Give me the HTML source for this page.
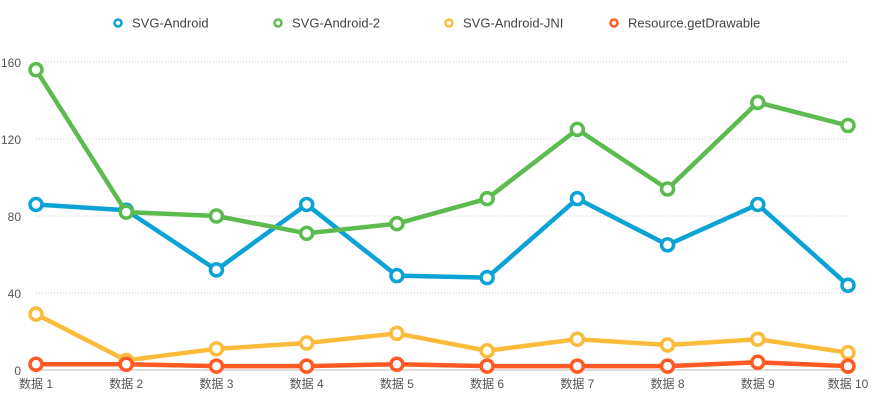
<!DOCTYPE html>
<html><head><meta charset="utf-8"><style>
body{margin:0;background:#fff;}
svg text{font-family:"Liberation Sans","Noto Sans CJK SC",sans-serif;}
</style></head><body>
<svg id="chart" width="884" height="404" xmlns="http://www.w3.org/2000/svg"></svg>
<script>
const categories=["数据 1","数据 2","数据 3","数据 4","数据 5","数据 6","数据 7","数据 8","数据 9","数据 10"];
const yTicks=[0,40,80,120,160];
const seriesNames=["SVG-Android","SVG-Android-2","SVG-Android-JNI","Resource.getDrawable"];
const seriesColors=["#0ba3d6","#5bbb4e","#fcbb3b","#ff5a23"];
const svgAndroid=[86,83,52,86,49,48,89,65,86,44];
const svgAndroid2=[156,82,80,71,76,89,125,94,139,127];
const svgAndroidJni=[29,5,11,14,19,10,16,13,16,9];
const resourceGetDrawable=[3,3,2,2,3,2,2,2,4,2];
const allSeries=[svgAndroid,svgAndroid2,svgAndroidJni,resourceGetDrawable];
const NS="http://www.w3.org/2000/svg";
const svg=document.getElementById('chart');
const x0=36,x1=848,y0=370,y1=62;
const xs=i=>x0+(x1-x0)*i/(categories.length-1);
const ys=v=>y0-(y0-y1)*v/160;
function mk(t,a,p){const e=document.createElementNS(NS,t);for(const k in a)e.setAttribute(k,a[k]);(p||svg).appendChild(e);return e;}
yTicks.forEach(v=>{
  const l=mk('line',{x1:x0,x2:x1,y1:ys(v),y2:ys(v),stroke:v===0?'#bbb':'#ccc','stroke-width':1,'stroke-dasharray':v===0?'':'1,2'});
  
  
  const t=mk('text',{x:21,y:ys(v)+5,'text-anchor':'end','font-size':12,fill:'#555'});
  t.textContent=v;
  
  
});
categories.forEach((c,i)=>{
  const t=mk('text',{x:xs(i),y:388,'text-anchor':'middle','font-size':12,fill:'#555'});
  t.textContent=c;
  
  
});
const legX=[118,278,449,614];
seriesNames.forEach((n,s)=>{
  const g=mk('g',{});
  
  
  mk('circle',{cx:legX[s],cy:23,r:3.5,fill:'#fff',stroke:seriesColors[s],'stroke-width':2.5},g);
  const t=mk('text',{x:legX[s]+14,y:27.5,'font-size':13,fill:'#444'},g);
  t.textContent=n;
});
allSeries.forEach((d,s)=>{
  const g=mk('g',{});
  
  
  const p=mk('polyline',{points:d.map((v,i)=>xs(i)+','+ys(v)).join(' '),fill:'none',stroke:seriesColors[s],'stroke-width':4.5,'stroke-linejoin':'round'},g);
  
  
  d.forEach((v,i)=>{
    const c=mk('circle',{cx:xs(i),cy:ys(v),r:6,fill:'#fff',stroke:seriesColors[s],'stroke-width':3.5},g);
    
    
  });
});
</script>
</body></html>
